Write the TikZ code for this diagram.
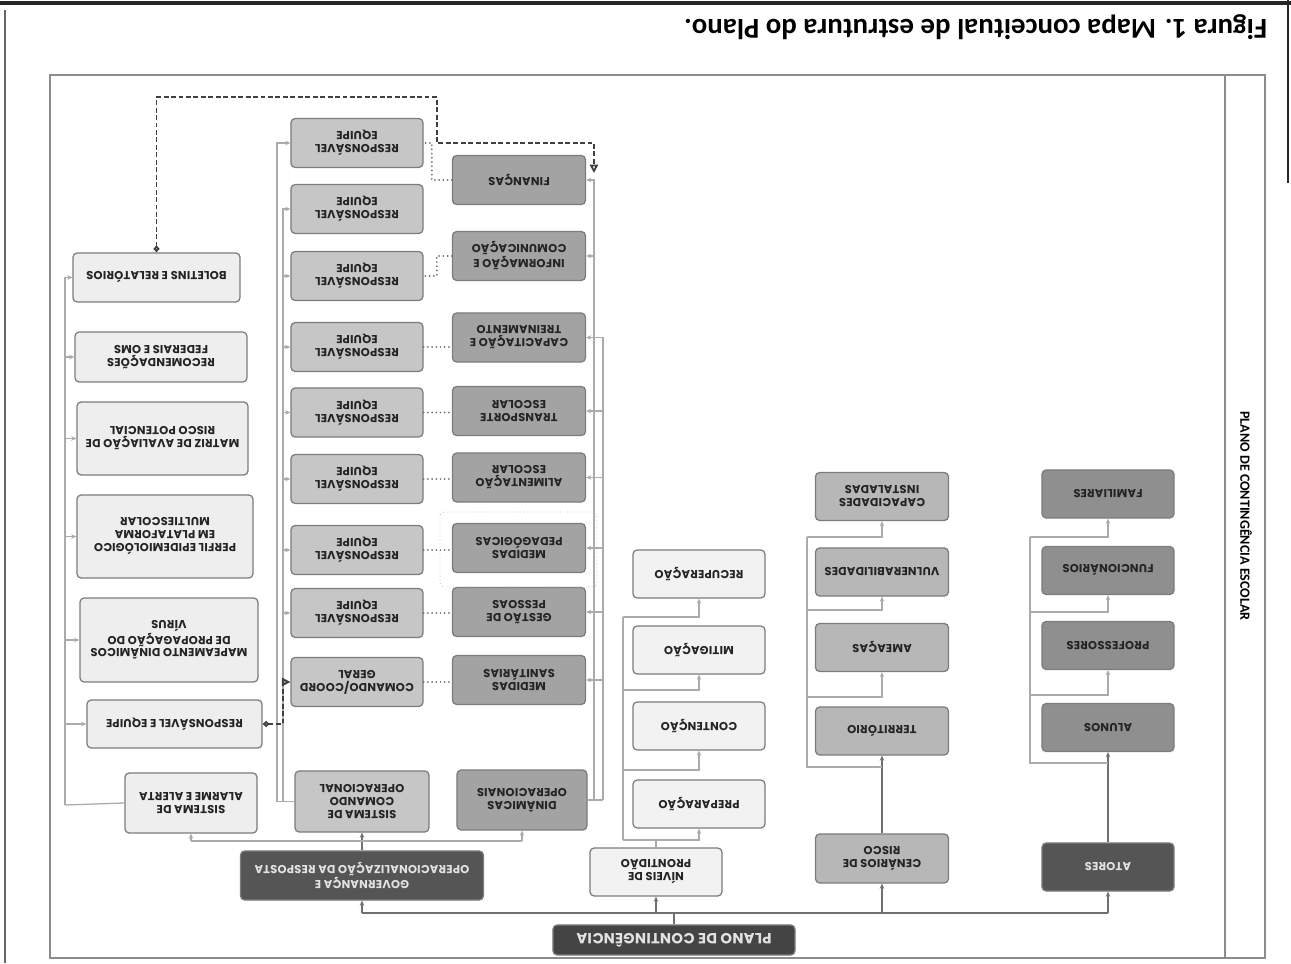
\documentclass[tikz,border=0pt]{standalone}
\usepackage{fontspec}
\setmainfont{Carlito}
\newfontfamily\boxfont[LetterSpace=2]{Poppins}
\usetikzlibrary{arrows.meta}

\definecolor{rootfill}{HTML}{444444}
\definecolor{darkfill}{HTML}{555555}
\definecolor{atorfill}{HTML}{8F8F8F}
\definecolor{cenafill}{HTML}{B7B7B7}
\definecolor{nivefill}{HTML}{F2F2F2}
\definecolor{dinafill}{HTML}{A3A3A3}
\definecolor{cmdfill}{HTML}{C6C6C6}
\definecolor{alarfill}{HTML}{EEEEEE}
\definecolor{boxline}{HTML}{7C7C7C}
\definecolor{textdark}{HTML}{242424}
\definecolor{textlight}{HTML}{E2E2E2}
\definecolor{trunkgray}{HTML}{707070}
\definecolor{linkgray}{HTML}{ABABAB}
\definecolor{dotgray}{HTML}{6E6E6E}
\definecolor{framegray}{HTML}{8C8C8C}

\begin{document}
\begin{tikzpicture}[
x=0.025cm, y=0.025cm,
rotate=180, transform shape,
box/.style={
draw=boxline,
line width=0.9pt,
rounded corners=3pt,
align=center,
inner sep=1pt,
text=textdark,
font=\boxfont\bfseries\fontsize{8.2}{9.2}\selectfont,
minimum width=3.3cm,
minimum height=1.2cm
},
topbox/.style={box, fill=rootfill, text=textlight,
font=\boxfont\bfseries\fontsize{10.5}{12}\selectfont},
headbox/.style={box, fill=darkfill, text=textlight},
atorbox/.style={box, fill=atorfill},
cenabox/.style={box, fill=cenafill, minimum width=3.325cm},
nivebox/.style={box, fill=nivefill},
dinabox/.style={box, fill=dinafill, minimum width=3.325cm, minimum height=1.225cm},
cmdbox/.style={box, fill=cmdfill, minimum height=1.225cm},
alarbox/.style={box, fill=alarfill},
mainline/.style={draw=trunkgray, line width=1.1pt},
subline/.style={draw=linkgray, line width=0.9pt},
dotline/.style={draw=dotgray, line width=1.4pt, dash pattern=on 0pt off 3pt, line cap=round},
dashline/.style={draw=black!75, line width=1.3pt, dash pattern=on 3.5pt off 1.8pt,
{Diamond[open,length=5pt,width=4.5pt]}-{Triangle[open,length=6pt,width=6pt]}},
pedframe/.style={draw=black!25, line width=0.6pt, dotted, rounded corners=3pt},
>={Stealth[length=3.6pt,width=3.2pt]}
]

\useasboundingbox (0,0) rectangle (1291,-963);

% borda da folha e moldura
\draw[line width=2.4pt, black!85] (0,-960) -- (1291,-960);
\draw[line width=2pt, black!85] (3,-963) -- (3,-780);
\draw[line width=0.8pt, black!60] (1286,-953) -- (1286,0);
\draw[framegray, line width=1.3pt] (26,-5) rectangle (1241,-888);
\draw[framegray, line width=1.3pt] (66,-5) -- (66,-888);

\node[font=\bfseries\fontsize{20.5}{24}\selectfont, anchor=west] (legenda) at (19,-936)
{Figura 1. Mapa conceitual de estrutura do Plano.};

\node[font=\bfseries\fontsize{10}{12}\selectfont, rotate=90] (titulo) at (45,-447)
{PLANO DE CONTINGÊNCIA ESCOLAR};

% raiz e primeiro nivel
\node[topbox, minimum width=6.05cm, minimum height=0.75cm] (plano) at (617,-23)
{PLANO DE CONTINGÊNCIA};

\node[headbox] (atores) at (183,-96) {ATORES};
\node[cenabox, minimum height=1.225cm] (cenarios) at (409,-104.5) {CENÁRIOS DE\\RISCO};
\node[nivebox] (niveis) at (635,-91) {NÍVEIS DE\\PRONTIDÃO};
\node[headbox, minimum width=6.075cm, minimum height=1.225cm] (governanca) at (929,-87.5)
{GOVERNANÇA E\\OPERACIONALIZAÇÃO DA RESPOSTA};

% atores
\node[atorbox] (alunos) at (183,-235.5) {ALUNOS};
\node[atorbox] (professores) at (183,-317.5) {PROFESSORES};
\node[atorbox] (funcionarios) at (183,-392.5) {FUNCIONÁRIOS};
\node[atorbox] (familiares) at (183,-469) {FAMILIARES};

% cenarios
\node[cenabox] (territorio) at (409,-232) {TERRITÓRIO};
\node[cenabox] (ameacas) at (409,-315.5) {AMEAÇAS};
\node[cenabox] (vulnerabilidades) at (409,-391) {VULNERABILIDADES};
\node[cenabox] (capacidades) at (409,-466.5) {CAPACIDADES\\INSTALADAS};

% niveis
\node[nivebox] (preparacao) at (592,-159) {PREPARAÇÃO};
\node[nivebox] (contencao) at (592,-237) {CONTENÇÃO};
\node[nivebox] (mitigacao) at (592,-313) {MITIGAÇÃO};
\node[nivebox] (recuperacao) at (592,-389) {RECUPERAÇÃO};

% governanca
\node[dinabox, minimum width=3.25cm, minimum height=1.5cm] (dinamicas) at (769,-163)
{DINÂMICAS\\OPERACIONAIS};
\node[cmdbox, minimum width=3.35cm, minimum height=1.525cm] (comando) at (929,-161.5)
{SISTEMA DE\\COMANDO\\OPERACIONAL};
\node[alarbox, minimum height=1.5cm] (alarme) at (1100,-160)
{SISTEMA DE\\ALARME E ALERTA};

\node[dinabox] (sanitarias) at (772,-283) {MEDIDAS\\SANITÁRIAS};
\node[dinabox] (gestao) at (772,-351) {GESTÃO DE\\PESSOAS};
\node[dinabox] (pedagogicas) at (772,-415) {MEDIDAS\\PEDAGÓGICAS};
\node[dinabox] (alimentacao) at (772,-485.5) {ALIMENTAÇÃO\\ESCOLAR};
\node[dinabox] (transporte) at (772,-552) {TRANSPORTE\\ESCOLAR};
\node[dinabox] (capacitacao) at (772,-625.5) {CAPACITAÇÃO E\\TREINAMENTO};
\node[dinabox] (informacao) at (772,-707) {INFORMAÇÃO E\\COMUNICAÇÃO};
\node[dinabox] (financas) at (772,-783) {FINANÇAS};

\node[cmdbox] (coordgeral) at (934,-281) {COMANDO/COORD\\GERAL};
\node[cmdbox] (resp8) at (934,-350) {RESPONSÁVEL\\EQUIPE};
\node[cmdbox] (resp7) at (934,-413) {RESPONSÁVEL\\EQUIPE};
\node[cmdbox] (resp6) at (934,-484) {RESPONSÁVEL\\EQUIPE};
\node[cmdbox] (resp5) at (934,-550.5) {RESPONSÁVEL\\EQUIPE};
\node[cmdbox] (resp4) at (934,-616) {RESPONSÁVEL\\EQUIPE};
\node[cmdbox] (resp3) at (934,-687) {RESPONSÁVEL\\EQUIPE};
\node[cmdbox] (resp2) at (934,-754) {RESPONSÁVEL\\EQUIPE};
\node[cmdbox] (resp1) at (934,-820) {RESPONSÁVEL\\EQUIPE};

\node[alarbox, minimum width=4.375cm] (respequipe) at (1116.5,-239) {RESPONSÁVEL E EQUIPE};
\node[alarbox, minimum width=4.45cm, minimum height=2.1cm] (mapeamento) at (1122,-323)
{MAPEAMENTO DINÂMICOS\\DE PROPAGAÇÃO DO\\VÍRUS};
\node[alarbox, minimum width=4.4cm, minimum height=2.075cm] (perfil) at (1126,-426.5)
{PERFIL EPIDEMIOLÓGICO\\EM PLATAFORMA\\MULTIESCOLAR};
\node[alarbox, minimum width=4.275cm, minimum height=1.825cm] (matriz) at (1128.5,-524.5)
{MATRIZ DE AVALIAÇÃO DE\\RISCO POTENCIAL};
\node[alarbox, minimum width=4.3cm, minimum height=1.25cm] (recomendacoes) at (1130,-606)
{RECOMENDAÇÕES\\FEDERAIS E OMS};
\node[alarbox, minimum width=4.175cm, minimum height=1.225cm] (boletins) at (1134.5,-685.5)
{BOLETINS E RELATÓRIOS};

% ligacoes da raiz
\coordinate (busA) at (183,-50);
\coordinate (busG) at (929,-50);
\draw[mainline] (plano.south) -- (plano.south |- busA);
\draw[mainline] (busA) -- (busG);
\draw[mainline,->] (busA) -- (atores.north);
\draw[mainline,->] (cenarios.north |- busA) -- (cenarios.north);
\draw[mainline,->] (niveis.north |- busA) -- (niveis.north);
\draw[mainline,->] (busG) -- (governanca.north);

% atores
\coordinate (at0) at (183,-200);
\coordinate (at1) at (261,-268);
\coordinate (at2) at (261,-351);
\coordinate (at3) at (261,-426);
\draw[mainline,->] (atores.south) -- (alunos.north);
\draw[subline] (at0) -| (at3);
\draw[subline,->] (at1) -| (professores.north);
\draw[subline,->] (at2) -| (funcionarios.north);
\draw[subline,->] (at3) -| (familiares.north);

% cenarios
\coordinate (ce0) at (409,-196);
\coordinate (ce1) at (484,-266);
\coordinate (ce2) at (484,-353);
\coordinate (ce3) at (484,-426);
\draw[mainline,->] (cenarios.south) -- (territorio.north);
\draw[subline] (ce0) -| (ce3);
\draw[subline,->] (ce1) -| (ameacas.north);
\draw[subline,->] (ce2) -| (vulnerabilidades.north);
\draw[subline,->] (ce3) -| (capacidades.north);

% niveis
\coordinate (nv0) at (668,-123);
\coordinate (nv1) at (668,-193);
\coordinate (nv2) at (668,-273);
\coordinate (nv3) at (668,-346);
\draw[subline] (niveis.south) -- (niveis.south |- nv0);
\draw[subline] (nv0) -- (nv3);
\draw[subline,->] (nv0) -| (preparacao.north);
\draw[subline,->] (nv1) -| (contencao.north);
\draw[subline,->] (nv2) -| (mitigacao.north);
\draw[subline,->] (nv3) -| (recuperacao.north);

% governanca
\coordinate (gv1) at (769,-122);
\coordinate (gv2) at (1100,-122);
\draw[mainline,->] (governanca.south) -- (comando.north);
\draw[subline] (gv1) -- (gv2);
\draw[subline,->] (gv1) -- (dinamicas.north);
\draw[subline,->] (gv2) -- (alarme.north);

% dinamicas operacionais
\coordinate (dn1) at (697,-163);
\coordinate (dn2) at (688,-163);
\draw[subline] (dinamicas.west) -- (dn2);
\draw[subline,->] (dn1) |- (financas.west);
\draw[subline,->] (dn1) |- (informacao.west);
\draw[subline,->] (dn2) |- (capacitacao.west);
\draw[subline,->] (dn2) |- (transporte.west);
\draw[subline,->] (dn2) |- (alimentacao.west);
\draw[subline,->] (dn2) |- (pedagogicas.west);
\draw[subline,->] (dn2) |- (gestao.west);
\draw[subline,->] (dn2) |- (sanitarias.west);
\draw[pedframe] (694,-451) rectangle (851,-376);

% sistema de comando
\coordinate (cm1) at (1008,-161.5);
\coordinate (cm2) at (1014,-161.5);
\draw[subline] (comando.east) -- (cm2);
\draw[subline,->] (cm2) |- (resp1.east);
\draw[subline,->] (cm1) |- (resp2.east);
\draw[subline,->] (cm1) |- (resp3.east);
\draw[subline,->] (cm1) |- (resp4.east);
\draw[subline,->] (cm1) |- (resp5.east);
\draw[subline,->] (cm1) |- (resp6.east);
\draw[subline,->] (cm1) |- (resp7.east);
\draw[subline,->] (cm1) |- (resp8.east);
\draw[subline,->] (cm1) |- (coordgeral.east);

% sistema de alarme
\coordinate (al1) at (1226,-158);
\draw[subline] (alarme.east) -- (al1);
\draw[subline,->] (al1) |- (respequipe.east);
\draw[subline,->] (al1) |- (mapeamento.east);
\draw[subline,->] (al1) |- (perfil.east);
\draw[subline,->] (al1) |- (matriz.east);
\draw[subline,->] (al1) |- (recomendacoes.east);
\draw[subline,->] (al1) |- (boletins.east);

% responsaveis por frente
\draw[dotline] (coordgeral.west) -- (coordgeral.west -| sanitarias.east);
\draw[dotline] (resp8.west) -- (resp8.west -| gestao.east);
\draw[dotline] (resp7.west) -- (resp7.west -| pedagogicas.east);
\draw[dotline] (resp6.west) -- (resp6.west -| alimentacao.east);
\draw[dotline] (resp5.west) -- (resp5.west -| transporte.east);
\draw[dotline] (resp4.west) -- (resp4.west -| capacitacao.east);
\draw[dotline] (informacao.east) -- ++(15,0) |- (resp3.west);
\draw[dotline] (financas.east) -- ++(20,0) |- (resp1.west);

% ligacoes tracejadas
\coordinate (dnTopo) at (697,-790);
\draw[dashline] (boletins.south) -- ++(0,-155) -| (854,-820) -| (dnTopo);
\draw[dashline] (respequipe.west) -- ++(-20,0) |- (coordgeral.east);

\end{tikzpicture}
\end{document}
